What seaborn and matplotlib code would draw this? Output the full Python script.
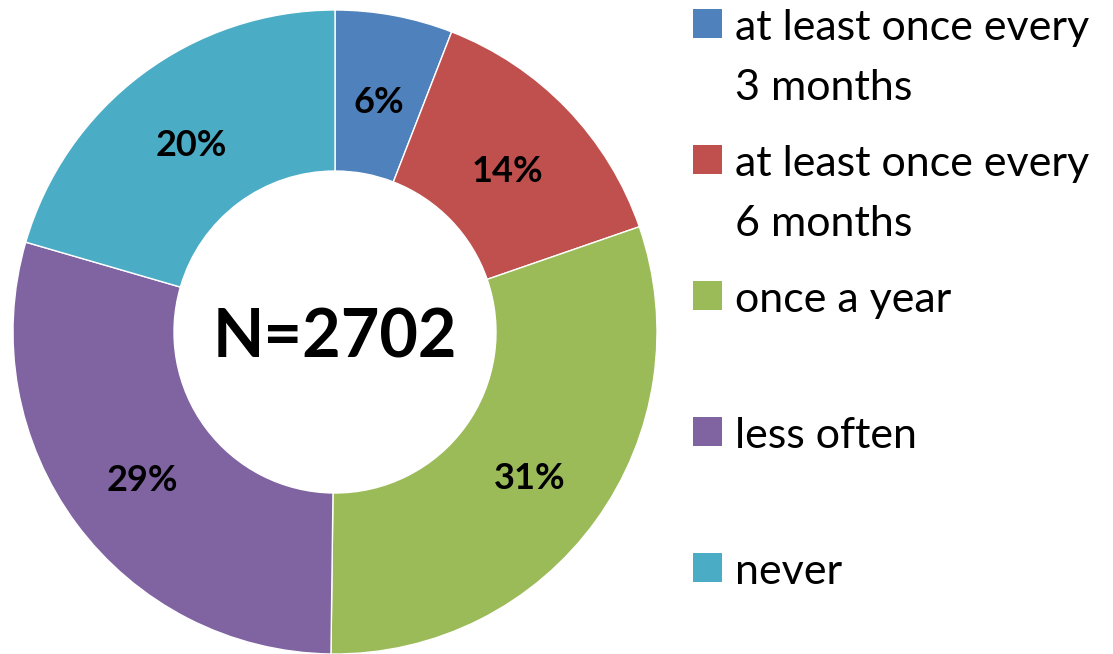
import matplotlib
matplotlib.use("Agg")
import numpy as np
import matplotlib.pyplot as plt
import seaborn as sns
from matplotlib.patches import Rectangle

sns.set_theme(style="white")
plt.rcParams['font.family'] = ['Lato', 'DejaVu Sans']

categories = ["at least once every\n3 months", "at least once every\n6 months",
              "once a year", "less often", "never"]
shares = [5.9, 13.8, 30.5, 29.3, 20.5]
share_labels = ["6%", "14%", "31%", "29%", "20%"]
colors = ["#4F81BD", "#C0504D", "#9BBB59", "#8064A2", "#4BACC6"]
n_total = 2702

fig = plt.figure(figsize=(11.13, 6.54), dpi=100)
ax = fig.add_axes([13 / 1113, (654 - 332 - 322) / 654, 644 / 1113, 644 / 654])

wedges, texts = ax.pie(
    shares, colors=colors, startangle=90, counterclock=False,
    wedgeprops=dict(width=0.5, edgecolor="white", linewidth=1))

# percentage labels in the middle of each ring segment
for w, lab in zip(wedges, share_labels):
    ang = np.deg2rad((w.theta1 + w.theta2) / 2)
    ax.text(0.745 * np.cos(ang), 0.745 * np.sin(ang) - 0.018, lab,
            ha="center", va="center", fontsize=26, fontweight="bold", color="black")

ax.set_xlim(-1, 1)
ax.set_ylim(-1, 1)
ax.set_aspect("equal")
ax.text(0, -0.02, f"N={n_total}", ha="center", va="center",
        fontsize=48, fontweight="bold", color="black")

# legend on the right, boxes aligned with first text line
y0 = 24
step = 136
for i, (lab, col) in enumerate(zip(categories, colors)):
    yc = y0 + i * step
    fig.patches.append(Rectangle((693 / 1113, 1 - (yc + 14) / 654), 29 / 1113, 29 / 654,
                                 transform=fig.transFigure, facecolor=col,
                                 edgecolor="none"))
    fig.text(735 / 1113, 1 - (yc - 15) / 654, lab, ha="left", va="top",
             fontsize=31, color="black", linespacing=1.70)

fig.savefig("out.png", dpi=100)
